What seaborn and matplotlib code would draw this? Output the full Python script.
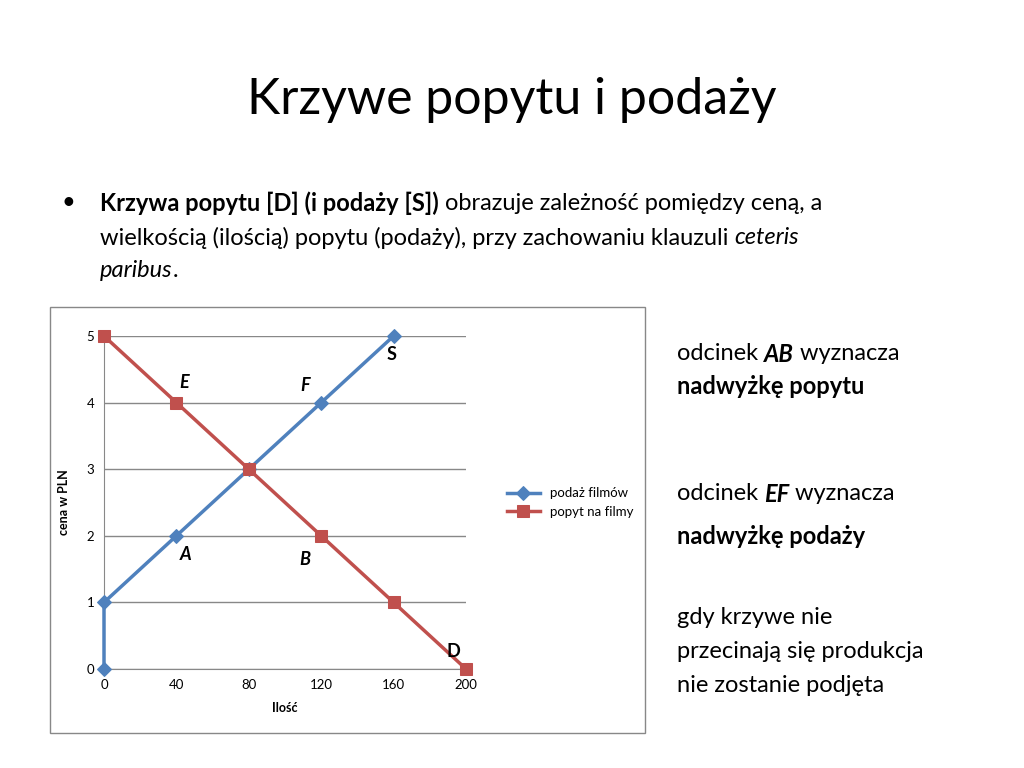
import matplotlib
matplotlib.use("Agg")
import matplotlib.pyplot as plt
import matplotlib.patches as patches
import seaborn as sns
import pandas as pd

# Data
supply_q = [0, 0, 40, 80, 120, 160]
supply_p = [0, 1, 2, 3, 4, 5]
demand_q = [0, 40, 80, 120, 160, 200]
demand_p = [5, 4, 3, 2, 1, 0]
x_ticks = [0, 40, 80, 120, 160, 200]
y_ticks = [0, 1, 2, 3, 4, 5]
point_labels = ["E", "F", "S", "A", "B", "D"]
label_q = [44, 111, 159, 45, 111, 193]
label_p = [4.3, 4.25, 4.72, 1.72, 1.65, 0.27]

FONT = "Lato"
plt.rcParams["font.family"] = FONT
BLUE = "#4F81BD"
RED = "#C0504D"

fig = plt.figure(figsize=(10.24, 7.68), dpi=100)

# Title
fig.text(0.5, 1 - 100 / 768, "Krzywe popytu i podaży", ha="center", va="center", fontsize=36)

# Bullet text with mixed styles
def rich_line(x_px, y_px, parts, size=17):
    renderer = fig.canvas.get_renderer()
    x = x_px / 1024
    for txt, weight, style in parts:
        t = fig.text(x, 1 - y_px / 768, txt, fontsize=size, fontweight=weight,
                     fontstyle=style, va="center", ha="left")
        bb = t.get_window_extent(renderer)
        x += bb.width / 1024

fig.text(62 / 1024, 1 - 203 / 768, "•", fontsize=17, va="center")
rich_line(100, 203, [("Krzywa popytu [D] (i podaży [S])", "bold", "normal"),
                     (" obrazuje zależność pomiędzy ceną, a", "normal", "normal")])
rich_line(100, 238, [("wielkością (ilością) popytu (podaży), przy zachowaniu klauzuli ", "normal", "normal"),
                     ("ceteris", "normal", "italic")])
rich_line(100, 271, [("paribus", "normal", "italic"), (".", "normal", "normal")])

# Right-side notes
rich_line(677, 354, [("odcinek ", "normal", "normal"), ("AB", "bold", "italic"),
                     (" wyznacza", "normal", "normal")])
rich_line(677, 387, [("nadwyżkę popytu", "bold", "normal")])
rich_line(677, 494, [("odcinek ", "normal", "normal"), ("EF", "bold", "italic"),
                     (" wyznacza", "normal", "normal")])
rich_line(677, 536, [("nadwyżkę podaży", "bold", "normal")])
rich_line(677, 618, [("gdy krzywe nie", "normal", "normal")])
rich_line(677, 652, [("przecinają się produkcja", "normal", "normal")])
rich_line(677, 686, [("nie zostanie podjęta", "normal", "normal")])

# Chart border
fig.patches.append(patches.Rectangle((50 / 1024, 1 - 733 / 768), 595 / 1024, 426 / 768,
                                     transform=fig.transFigure, fill=False,
                                     edgecolor="#888888", linewidth=1))

ax = fig.add_axes([104 / 1024, 1 - 669 / 768, 362 / 1024, 333 / 768])
supply = pd.DataFrame({"q": supply_q, "p": supply_p})
demand = pd.DataFrame({"q": demand_q, "p": demand_p})
sns.lineplot(data=supply, x="q", y="p", ax=ax, sort=False, estimator=None, color=BLUE,
             marker="D", markersize=7, markeredgecolor=BLUE, linewidth=2.5,
             label="podaż filmów", clip_on=False, zorder=3)
sns.lineplot(data=demand, x="q", y="p", ax=ax, sort=False, estimator=None, color=RED,
             marker="s", markersize=8, markeredgecolor=RED, linewidth=2.5,
             label="popyt na filmy", clip_on=False, zorder=3)

ax.set_xlim(0, 200)
ax.set_ylim(0, 5)
ax.set_xticks(x_ticks)
ax.set_yticks(y_ticks)
ax.tick_params(labelsize=9.5, length=0, pad=7)
ax.yaxis.grid(True, color="#888888", linewidth=1)
for s in ["top", "right"]:
    ax.spines[s].set_visible(False)
ax.spines["bottom"].set_color("#888888")
ax.spines["left"].set_color("#888888")
ax.set_xlabel("Ilość", fontsize=9, fontweight="bold", labelpad=8)
ax.set_ylabel("cena w PLN", fontsize=9, fontweight="bold", labelpad=12)

for lab, q, p in zip(point_labels, label_q, label_p):
    ax.text(q, p, lab, fontsize=13, fontweight="bold",
            fontstyle="italic" if lab in "EFAB" else "normal", ha="center", va="center")

ax.legend(loc="center left", bbox_to_anchor=(1.08, 0.5), frameon=False, fontsize=9.5,
          handlelength=2.5)

fig.savefig("out.png", dpi=100)
